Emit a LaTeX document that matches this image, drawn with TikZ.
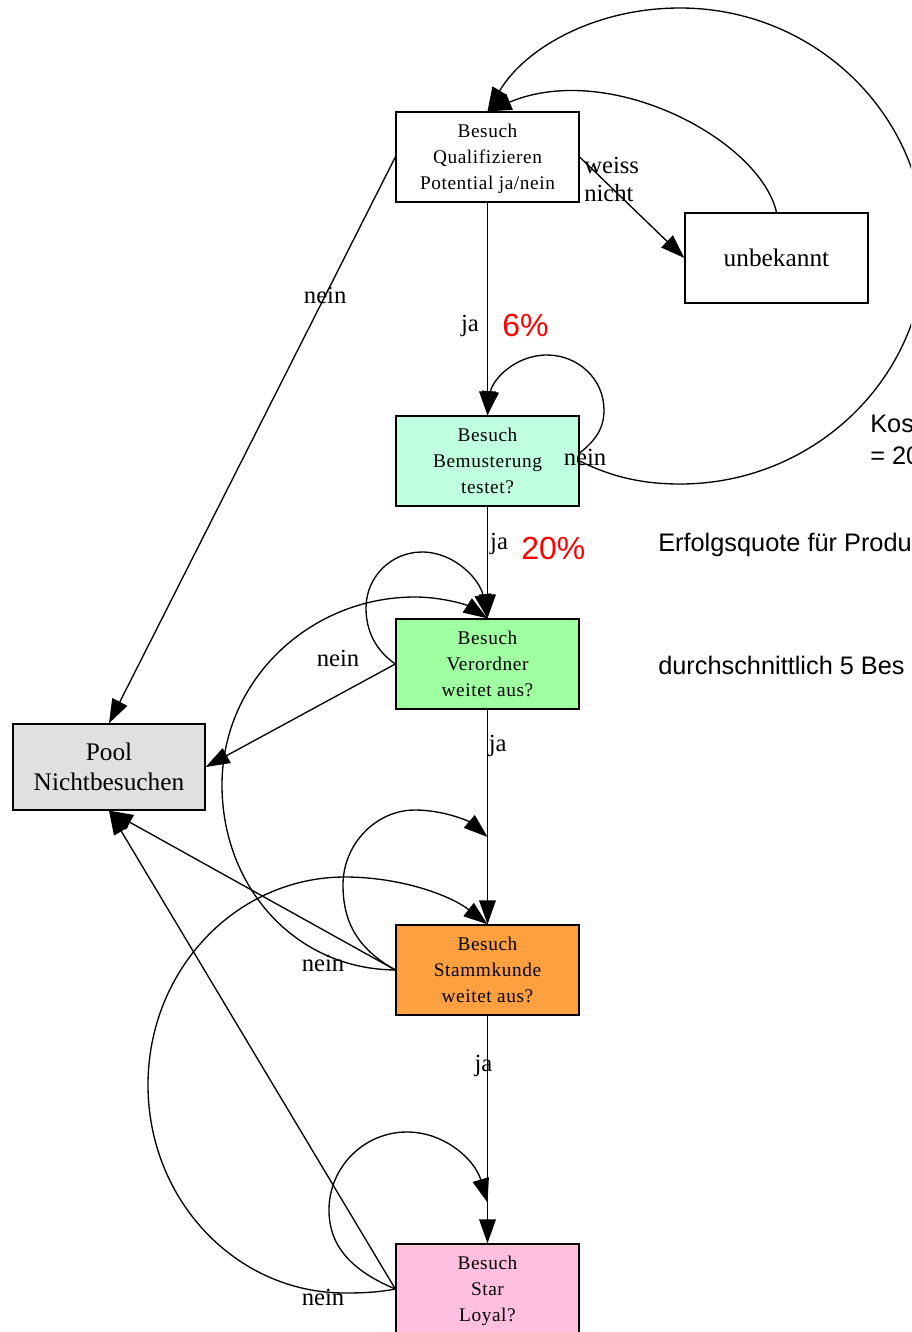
\documentclass[tikz,border=0pt]{standalone}
\usepackage{fontspec}
\setmainfont{Liberation Serif}
\setsansfont{Liberation Sans}
\newfontfamily\boxfont[LetterSpace=3]{Liberation Serif}
\usetikzlibrary{arrows.meta,calc}

\definecolor{poolgray}{HTML}{E0E0E0}
\definecolor{mintfill}{HTML}{C0FFE0}
\definecolor{greenfill}{HTML}{A0FFA0}
\definecolor{orangefill}{HTML}{FFA040}
\definecolor{pinkfill}{HTML}{FFC0E0}

\begin{document}
\begin{tikzpicture}[
  x=0.75pt,y=-0.75pt,
  visit/.style={
    draw,
    line width=1pt,
    minimum width=137.25pt,
    minimum height=67.5pt,
    inner sep=0pt,
    align=center,
    text depth=0pt,
    execute at begin node={\rule{0pt}{13pt}},
    font=\boxfont\fontsize{14.5}{19.5}\selectfont
  },
  plainbox/.style={
    draw,
    line width=1pt,
    minimum width=137.25pt,
    minimum height=67.5pt,
    inner sep=0pt,
    align=center,
    font=\fontsize{19}{22.5}\selectfont
  },
  edge/.style={-{Triangle[length=18pt,width=12.5pt]},line width=1pt},
  elabel/.style={font=\fontsize{18.5}{21}\selectfont,inner sep=0pt},
  note/.style={anchor=west,align=left,inner sep=0pt,font=\sffamily\fontsize{19}{24}\selectfont},
  pct/.style={anchor=west,inner sep=0pt,text=red,font=\sffamily\fontsize{24}{28}\selectfont}
]
\useasboundingbox (0,0) rectangle (911,1332);
\clip (0,0) rectangle (911,1332);

% boxes
\node[visit] (qual) at (487.5,157) {Besuch\\Qualifizieren\\Potential ja/nein};
\node[plainbox] (unbek) at (776.5,258) {unbekannt};
\node[visit,fill=mintfill] (muster) at (487.5,461) {Besuch\\Bemusterung\\testet?};
\node[visit,fill=greenfill] (verord) at (487.5,664) {Besuch\\Verordner\\weitet aus?};
\node[plainbox,fill=poolgray,minimum width=144pt,minimum height=64.5pt] (pool) at (109,767) {Pool\\Nichtbesuchen};
\node[visit,fill=orangefill] (stamm) at (487.5,970) {Besuch\\Stammkunde\\weitet aus?};
\node[visit,fill=pinkfill] (star) at (487.5,1289) {Besuch\\Star\\Loyal?};

\coordinate (stammHook) at ($(verord.south)!0.593!(stamm.north)$);
\coordinate (starHook) at ($(stamm.south)!0.821!(star.north)$);

% Qualifizieren
\draw[edge] (qual.east) -- (unbek.west);
\node[elabel,anchor=west,align=left] (weiss) at (584,179) {weiss\\nicht};
\draw[edge] (unbek.north) .. controls (760,140) and (610,60) .. (qual.north);
\draw[edge] (qual.west) -- node[pos=0.245,elabel] (neinQual) {nein} (pool.north);
\draw[edge] (qual.south) -- node[pos=0.58,left,elabel,inner sep=6pt] (jaQual) {ja} (muster.north);
\node[pct] (pctSechs) at (502,325) {6\%};

% Bemusterung
\draw[edge] (muster.east) .. controls (610,476) and (640,484) .. (680,484)
  .. controls (815,484) and (925,377) .. (925,246)
  .. controls (925,115) and (815,8) .. (680,8)
  .. controls (595,8) and (525,48) .. (qual.north);
\draw[edge] ($(muster.east)+(0,-8)$) .. controls (596,440) and (604,428) .. (604,410)
  .. controls (604,379) and (578,355) .. (547,355)
  .. controls (515,355) and (492,380) .. (muster.north);
\node[elabel] (neinMuster) at (585,457) {nein};
\draw[edge] (muster.south) -- node[pos=0.33,right,elabel,inner sep=1.5pt] (jaMuster) {ja} (verord.north);
\node[pct] (pctZwanzig) at (521,548) {20\%};

% Verordner
\draw[edge] (verord.west) .. controls (375,650) and (366,630) .. (366,608)
  .. controls (366,577) and (391,552) .. (422,552)
  .. controls (455,552) and (480,580) .. (verord.north);
\draw[edge] (verord.west) -- (pool.east);
\node[elabel] (neinVerord) at (338,658) {nein};
\draw[edge] (verord.south) -- node[pos=0.167,right,elabel,inner sep=0.5pt] (jaVerord) {ja} (stamm.north);

% Stammkunde
\draw[edge] (stamm.west) .. controls (294,969) and (222,886) .. (222,785)
  .. controls (222,680) and (310,597) .. (415,597)
  .. controls (440,597) and (465,604) .. (verord.north);
\draw[edge] (stamm.west) .. controls (360,950) and (343,925) .. (343,885)
  .. controls (343,844) and (376,810) .. (415,810)
  .. controls (445,810) and (470,822) .. (stammHook);
\draw[edge] (stamm.west) -- (pool.south);
\node[elabel] (neinStamm) at (323,963) {nein};
\draw[edge] (stamm.south) -- node[pos=0.223,elabel,xshift=-3pt] (jaStamm) {ja} (star.north);

% Star
\draw[edge] (star.west) .. controls (380,1292) and (365,1293) .. (345,1293)
  .. controls (236,1293) and (148,1200) .. (148,1085)
  .. controls (148,970) and (236,877) .. (345,877)
  .. controls (400,877) and (450,895) .. (stamm.north);
\draw[edge] (star.west) .. controls (350,1270) and (329,1245) .. (329,1210)
  .. controls (329,1167) and (364,1132) .. (407,1132)
  .. controls (445,1132) and (475,1160) .. (starHook);
\draw[edge] (star.west) -- (pool.south);
\node[elabel] (neinStar) at (323,1297) {nein};

% notes
\node[note] (kosten) at (870,440) {Kos\\= 20};
\node[note] (erfolg) at (658,545) {Erfolgsquote für Produ};
\node[note] (besuche) at (658,665) {durchschnittlich 5 Bes};
\end{tikzpicture}
\end{document}
